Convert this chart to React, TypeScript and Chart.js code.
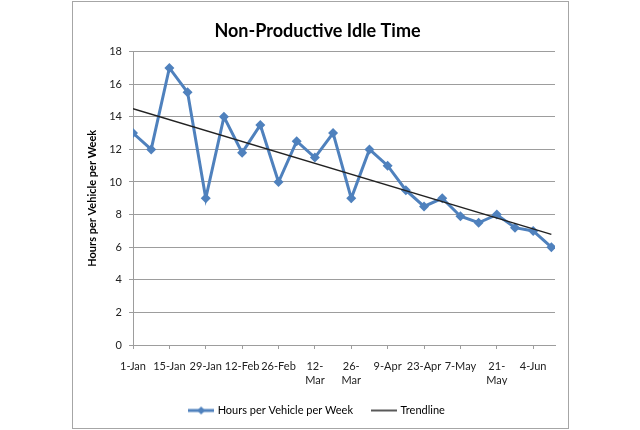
import React, { useEffect, useRef } from 'react';
import { Chart, registerables } from 'chart.js';

Chart.register(...registerables);

const weeks = [
  '1-Jan', '8-Jan', '15-Jan', '22-Jan', '29-Jan', '5-Feb', '12-Feb', '19-Feb',
  '26-Feb', '5-Mar', '12-Mar', '19-Mar', '26-Mar', '2-Apr', '9-Apr', '16-Apr',
  '23-Apr', '30-Apr', '7-May', '14-May', '21-May', '28-May', '4-Jun', '11-Jun',
];
const hours = [
  13, 12, 17, 15.5, 9, 14, 11.8, 13.5, 10, 12.5, 11.5, 13,
  9, 12, 11, 9.5, 8.5, 9, 7.9, 7.5, 8, 7.2, 7, 6,
];
const tickLabels = [
  ['1-Jan'], ['15-Jan'], ['29-Jan'], ['12-Feb'], ['26-Feb'], ['12-', 'Mar'],
  ['26-', 'Mar'], ['9-Apr'], ['23-Apr'], ['7-May'], ['21-', 'May'], ['4-Jun'],
];
const seriesName = 'Hours per Vehicle per Week';
const trendName = 'Trendline';
const titleText = 'Non-Productive Idle Time';
const yTitle = 'Hours per Vehicle per Week';

const BLUE = '#4F81BD';
const DARK = '#222222';
const GRID = '#9d9d9d';
const FONT = 'Lato';

function linearFit(ys: number[]) {
  const n = ys.length;
  const xm = (n - 1) / 2;
  const ym = ys.reduce((a, b) => a + b, 0) / n;
  let sxy = 0, sxx = 0;
  ys.forEach((y, i) => { sxy += (i - xm) * (y - ym); sxx += (i - xm) * (i - xm); });
  const slope = sxy / sxx;
  return { slope, intercept: ym - slope * xm };
}

function makeIcon(color: string, lw: number, diamond: boolean) {
  const c = document.createElement('canvas');
  c.width = 26; c.height = 12;
  const g = c.getContext('2d')!;
  g.strokeStyle = color; g.lineWidth = lw;
  g.beginPath(); g.moveTo(0, 6); g.lineTo(26, 6); g.stroke();
  if (diamond) {
    g.fillStyle = color;
    g.beginPath(); g.moveTo(13, 2); g.lineTo(17, 6); g.lineTo(13, 10); g.lineTo(9, 6); g.closePath(); g.fill();
  }
  return c;
}

export default function App() {
  const ref = useRef<HTMLCanvasElement>(null);
  useEffect(() => {
    const fit = linearFit(hours);
    const last = hours.length - 1;
    const iconA = makeIcon(BLUE, 3, true);
    const iconB = makeIcon(DARK, 1.5, false);
    const chart = new Chart(ref.current!, {
      type: 'line',
      data: {
        datasets: [
          {
            label: trendName,
            data: [
              { x: 0, y: fit.intercept },
              { x: last, y: fit.intercept + fit.slope * last },
            ],
            borderColor: DARK,
            borderWidth: 1.5,
            pointRadius: 0,
            order: 0,
          },
          {
            label: seriesName,
            data: hours.map((v, i) => ({ x: i, y: v })),
            borderColor: BLUE,
            backgroundColor: BLUE,
            borderWidth: 3,
            pointStyle: 'rectRot',
            pointRadius: 5,
            pointBorderWidth: 0,
            order: 1,
          },
        ],
      },
      options: {
        responsive: false,
        animation: false,
        layout: { padding: { left: 80, right: 85, top: 0, bottom: 4 } },
        scales: {
          x: {
            type: 'linear',
            min: 0,
            max: 23.2,
            afterFit: (s: any) => { s.height = 40; },
            grid: { drawOnChartArea: false, drawTicks: true, tickLength: 4, color: GRID },
            border: { color: GRID, width: 1 },
            ticks: {
              stepSize: 2,
              autoSkip: false,
              maxRotation: 0,
              minRotation: 0,
              includeBounds: false,
              padding: 10,
              color: DARK,
              font: { family: FONT, size: 11, lineHeight: 1.27 },
              callback: (v: any) => {
                const idx = Math.round(Number(v) / 2);
                return Number(v) % 2 === 0 && tickLabels[idx] ? tickLabels[idx] : '';
              },
            },
          },
          y: {
            min: 0,
            max: 18,
            afterFit: (s: any) => { s.width = 53; },
            grid: { color: GRID, tickLength: 4, drawTicks: true },
            border: { color: GRID, width: 1 },
            ticks: { stepSize: 2, padding: 7, color: DARK, font: { family: FONT, size: 11 } },
            title: {
              display: true,
              text: yTitle,
              color: '#000',
              font: { family: FONT, size: 11, weight: 'bold' },
              padding: { top: 6, bottom: 0 },
            },
          },
        },
        plugins: {
          title: {
            display: true,
            text: titleText,
            color: '#000',
            font: { family: FONT, size: 18, weight: 'bold' },
            padding: { top: 20, bottom: 10 },
          },
          legend: {
            position: 'bottom',
            labels: {
              usePointStyle: true,
              pointStyleWidth: 22,
              boxHeight: 11,
              padding: 20,
              color: DARK,
              font: { family: FONT, size: 11 },
              generateLabels: () => [
                { text: seriesName, pointStyle: iconA, fillStyle: BLUE, strokeStyle: BLUE, lineWidth: 0, datasetIndex: 1, hidden: false },
                { text: trendName, pointStyle: iconB, fillStyle: DARK, strokeStyle: DARK, lineWidth: 0, datasetIndex: 0, hidden: false },
              ] as any,
            },
          },
          tooltip: { enabled: false },
        },
      } as any,
    });
    return () => chart.destroy();
  }, []);

  return (
    <div style={{ position: 'absolute', left: 0, top: 0, width: 640, height: 430, background: '#fff' }}>
      <div style={{ position: 'absolute', left: 72, top: 1, width: 495, height: 426, border: '1px solid #a6a6a6' }} />
      <canvas ref={ref} width={640} height={430} style={{ position: 'absolute', left: 0, top: 0 }} />
    </div>
  );
}
